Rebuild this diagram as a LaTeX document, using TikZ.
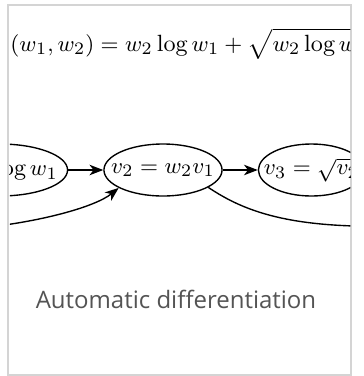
\documentclass[tikz,border=0pt]{standalone}
\usepackage{fontspec}
\newfontfamily\captionfont{Open Sans}
\usepackage{tikz}
\usetikzlibrary{arrows.meta, positioning, shapes.geometric}

\begin{document}
\begin{tikzpicture}[
  x=0.4pt, y=-0.4pt,
  node distance=14pt,
  every node/.style={font=\fontsize{9.4}{11.3}\selectfont},
  vnode/.style={draw, ellipse, line width=0.55pt, minimum height=20.8pt,
                inner xsep=-4pt, inner ysep=0pt},
  arr/.style={-{Stealth[length=5.5pt, width=4.2pt, inset=1.6pt]}, line width=0.55pt},
  card/.style={draw=black!17, line width=0.8pt},
  caption/.style={font=\captionfont\fontsize{9.6}{11.5}\selectfont, text=black!67}
]
\useasboundingbox[fill=white] (0,0) rectangle (363,376);
\draw[card] (8.5,5) rectangle (351.5,375);

\begin{scope}
\clip (10,6.5) rectangle (350.5,373.5);
\node[anchor=base west, inner sep=0pt] (fml) at (10,51)
  {$(w_1, w_2) = w_2\log w_1 + \sqrt{w_2\log w_1}$};

\node[vnode] (v2) at (163,170) {$v_2 = w_2v_1$};
\node[vnode, left=of v2] (v1) {$v_1 = \log w_1$};
\node[vnode, right=of v2] (v3) {$v_3 = \sqrt{v_2}$};
\coordinate (wsrc) at (-20,228);
\coordinate (vdst) at (400,226);

\draw[arr] (v1) -- (v2);
\draw[arr] (v2) -- (v3);
\draw[arr] (wsrc) .. controls (40,222) and (95,207) .. (v2.202);
\draw[arr] (v2.-21) .. controls (245,212) and (290,228) .. (vdst);
\end{scope}

\node[caption, anchor=base] (cap) at (176,308.5) {Automatic differentiation};
\end{tikzpicture}
\end{document}
